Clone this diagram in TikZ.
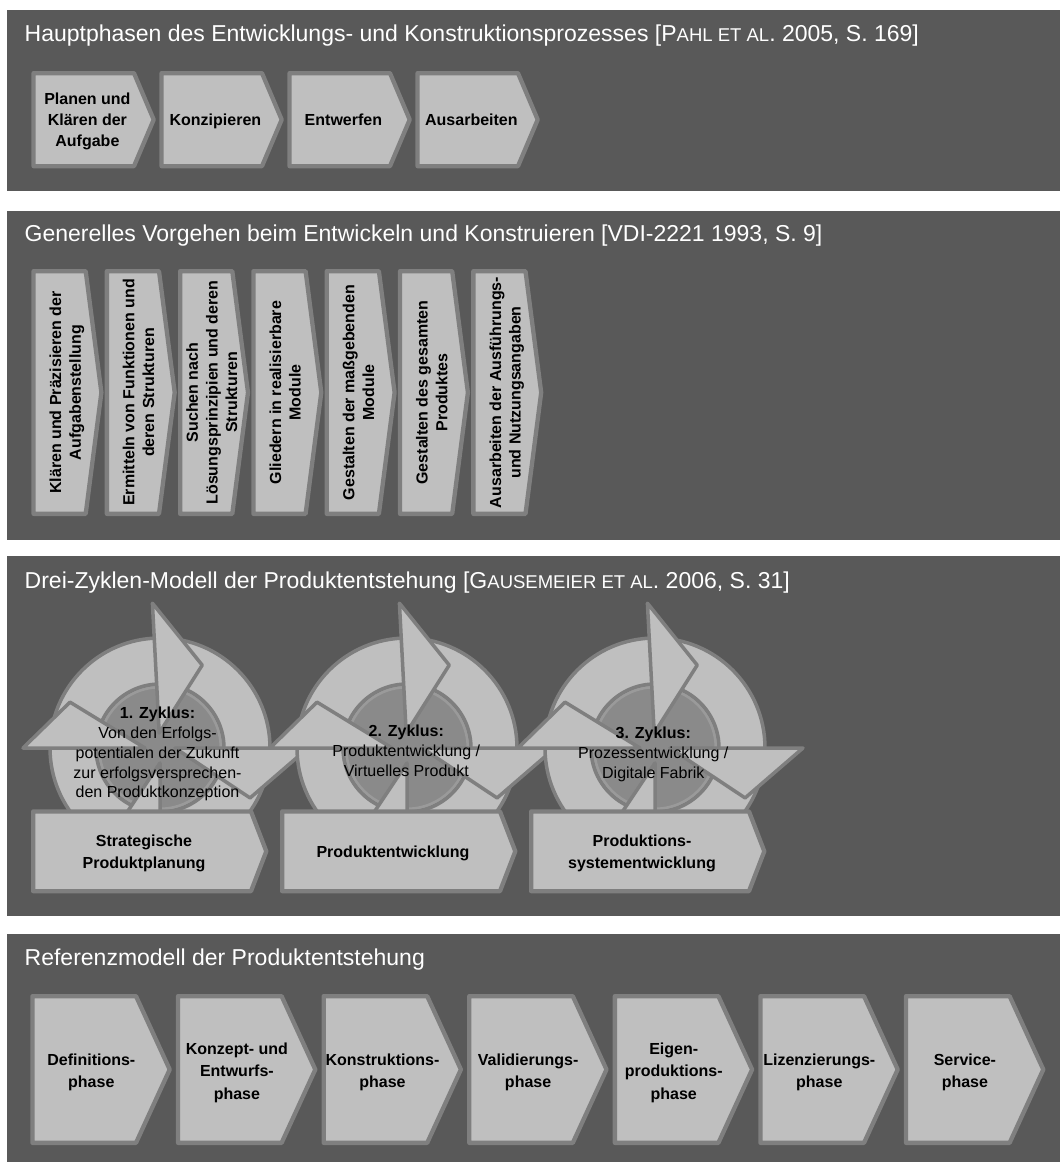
\documentclass[tikz,border=0pt]{standalone}
\usepackage{fontspec}
\setmainfont{Liberation Sans}
\usetikzlibrary{calc}
\definecolor{panelbg}{HTML}{595959}
\definecolor{chevfill}{HTML}{BFBFBF}
\definecolor{chevline}{HTML}{7F7F7F}
\definecolor{diskfill}{HTML}{8A8A8A}
\definecolor{diskline}{HTML}{9A9A9A}
\newcommand{\fsc}[1]{{\fontsize{18.5}{20}\selectfont #1}}
% x0, y0, y1, straight width, tip length
\newcommand{\chevshape}[5]{%
  \filldraw[chev] ({#1+2.15},{#2+2.15}) -- ({#1+#4},{#2+2.15}) -- ({#1+#4+#5-2.3},{(#2+#3)/2}) -- ({#1+#4},{#3-2.15}) -- ({#1+2.15},{#3-2.15}) -- cycle;}
% center, base angle, outer r, tip angle, tip r (xy-polar angles, y flipped)
\newcommand{\arrowhd}[5]{%
  \filldraw[ring] ($(#1)+(#2:15)$) -- ($(#1)+(#2:#3)$) -- ($(#1)+(#4:#5)$) -- cycle;}
\newcommand{\zyklus}[3]{%
  \coordinate (#3) at (#1,#2);
  \filldraw[fill=diskfill, draw=diskline, line width=3pt] (#3) circle[radius=61];
  \filldraw[ring, even odd rule] (#3) circle[radius=110] (#3) circle[radius=64];
  \arrowhd{#3}{267}{145}{297}{93}
  \arrowhd{#3}{180}{137}{207}{101}
  \arrowhd{#3}{90}{142}{119}{100}
  \arrowhd{#3}{0}{148}{29}{103}}
\begin{document}
\begin{tikzpicture}[x=1pt,y=-1pt,line join=round,
  title/.style={font=\fontsize{23}{27}\selectfont, text=white, inner sep=0pt, anchor=base west},
  chev/.style={fill=chevfill, draw=chevline, line width=4.3pt},
  ring/.style={fill=chevfill, draw=chevline, line width=3.5pt},
  ctext/.style={font=\fontsize{16}{21.3}\selectfont\bfseries, align=center, inner sep=0pt, text depth=0pt},
  vtext/.style={font=\fontsize{16}{19.6}\selectfont\bfseries, align=center, inner sep=0pt, text depth=0pt, rotate=90},
  stext/.style={font=\fontsize{16}{22}\selectfont\bfseries, align=center, inner sep=0pt, text depth=0pt},
  ptext/.style={font=\fontsize{16}{22.3}\selectfont\bfseries, align=center, inner sep=0pt, text depth=0pt},
  cytext/.style={font=\fontsize{16}{19.8}\selectfont, align=center, inner sep=0pt, text depth=0pt}]
\useasboundingbox (0,0) rectangle (1060,1162);
\fill[white] (0,0) rectangle (1060,1162);
% panels
\fill[panelbg] (7,10) rectangle (1060,191);
\fill[panelbg] (7,211) rectangle (1060,540);
\fill[panelbg] (7,556) rectangle (1060,915.5);
\fill[panelbg] (7,934) rectangle (1060,1162);
% titles
\node[title] (t1) at (24.5,41.7) {Hauptphasen des Entwicklungs- und Konstruktionsprozesses [P\fsc{AHL ET AL}. 2005, S. 169]};
\node[title] (t2) at (24.5,241.7) {Generelles Vorgehen beim Entwickeln und Konstruieren [VDI-2221 1993, S. 9]};
\node[title] (t3) at (24.5,588.3) {Drei-Zyklen-Modell der Produktentstehung [G\fsc{AUSEMEIER ET AL}. 2006, S. 31]};
\node[title] (t4) at (24.5,965) {Referenzmodell der Produktentstehung};
% panel 1
\foreach \i/\txt in {0/{Planen und\\Klären der\\Aufgabe}, 1/Konzipieren, 2/Entwerfen, 3/Ausarbeiten}{
  \pgfmathsetmacro{\xo}{31.4+128*\i}
  \chevshape{\xo}{71}{168.3}{102.6}{22}
  \node[ctext] (ha\i) at (\xo+56,119.7) {\txt};
}
% panel 2
\foreach \i/\txt in {0/{Klären und Präzisieren der\\Aufgabenstellung},
  1/{Ermitteln von Funktionen und\\deren Strukturen},
  2/{Suchen nach\\Lösungsprinzipien und deren\\Strukturen},
  3/{Gliedern in realisierbare\\Module},
  4/{Gestalten der maßgebenden\\Module},
  5/{Gestalten des gesamten\\Produktes},
  6/{Ausarbeiten der Ausführungs-\\und Nutzungsangaben}}{
  \pgfmathsetmacro{\xo}{31.4+73.3*\i}
  \chevshape{\xo}{269}{516}{54.3}{18}
  \node[vtext] (vb\i) at (\xo+33.8,392.5) {\txt};
}
% panel 3 cycles
\zyklus{160}{748}{c1}
\zyklus{407}{748}{c2}
\zyklus{655}{748}{c3}
\node[cytext] (z1) at (157.5,752.5) {\textbf{1. Zyklus:}\\Von den Erfolgs-\\potentialen der Zukunft\\zur erfolgsversprechen-\\den Produktkonzeption};
\node[cytext] (z2) at (406.3,750.5) {\textbf{2. Zyklus:}\\Produktentwicklung /\\Virtuelles Produkt};
\node[cytext] (z3) at (653.3,752.5) {\textbf{3. Zyklus:}\\Prozessentwicklung /\\Digitale Fabrik};
\foreach \i/\txt in {0/{Strategische\\Produktplanung}, 1/Produktentwicklung, 2/{Produktions-\\systementwicklung}}{
  \pgfmathsetmacro{\xo}{31+249*\i}
  \chevshape{\xo}{809.3}{893.3}{220}{17.6}
  \node[stext] (sc\i) at (\xo+113,851.5) {\txt};
}
% panel 4
\foreach \i/\txt in {0/{Definitions-\\phase}, 1/{Konzept- und\\Entwurfs-\\phase}, 2/{Konstruktions-\\phase},
  3/{Validierungs-\\phase}, 4/{Eigen-\\produktions-\\phase}, 5/{Lizenzierungs-\\phase}, 6/{Service-\\phase}}{
  \pgfmathsetmacro{\xo}{30.3+145.6*\i}
  \chevshape{\xo}{994}{1145}{105.7}{36}
  \node[ptext] (pd\i) at (\xo+61,1071) {\txt};
}
\end{tikzpicture}
\end{document}
